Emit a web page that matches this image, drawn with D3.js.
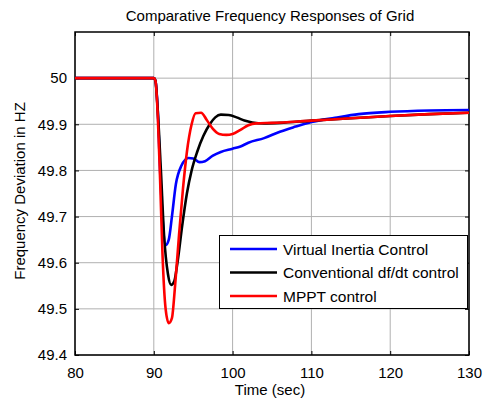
<!DOCTYPE html>
<html><head><meta charset="utf-8">
<script src="https://cdn.jsdelivr.net/npm/d3@7/dist/d3.min.js"></script>
<style>body{margin:0;background:#fff;} text{font-family:"Liberation Sans",Arial,sans-serif;fill:#000;}</style>
</head><body><svg id="c" width="487" height="403"></svg>
<script>
const xTicks = [80, 90, 100, 110, 120, 130];
const yTicks = [49.4, 49.5, 49.6, 49.7, 49.8, 49.9, 50];
const title = "Comparative Frequency Responses of Grid";
const xLabel = "Time (sec)";
const yLabel = "Frequency Deviation in HZ";
const seriesNames = ["Virtual Inertia Control", "Conventional df/dt control", "MPPT control"];
const seriesColors = ["#0000ff", "#000000", "#ff0000"];

const blueT = [80,90,90.2,90.5,90.8,91.1,91.5,91.9,92.3,92.8,93.5,94.4,95.0,95.8,96.5,97.5,98.5,100,101,102,104,106,108,110,113,116,120,125,130];
const blueV = [50,50,49.995,49.93,49.80,49.70,49.638,49.65,49.70,49.77,49.81,49.827,49.826,49.818,49.82,49.832,49.84,49.847,49.852,49.86,49.87,49.884,49.895,49.905,49.914,49.922,49.927,49.93,49.931];
const blackT = [80,90,90.2,90.5,90.9,91.3,91.8,92.2,92.6,93.0,93.6,94.2,94.8,95.5,96.3,97.1,97.8,98.5,99.5,100.5,101.5,102.5,104,106,110,115,120,125,130];
const blackV = [50,50,49.995,49.93,49.80,49.66,49.575,49.552,49.56,49.60,49.68,49.75,49.80,49.84,49.875,49.90,49.915,49.921,49.92,49.915,49.908,49.904,49.902,49.903,49.908,49.913,49.918,49.922,49.925];
const redT = [80,90,90.2,90.5,90.8,91.1,91.5,91.9,92.3,92.7,93.2,93.7,94.2,94.8,95.3,96.0,96.7,97.5,98.3,99.2,100,101,102,103,105,110,115,120,125,130];
const redV = [50,50,49.995,49.92,49.78,49.62,49.50,49.469,49.48,49.55,49.66,49.76,49.84,49.90,49.924,49.925,49.91,49.89,49.879,49.877,49.879,49.888,49.898,49.902,49.903,49.908,49.913,49.918,49.922,49.925];

const svg = d3.select("#c");
const L = 75, R = 469, T = 32, B = 355;
const x = d3.scaleLinear().domain([80,130]).range([L,R]);
const y = d3.scaleLinear().domain([49.4,50.1]).range([B,T]);

// grid
const g = svg.append("g");
g.selectAll(".gx").data(xTicks).enter().append("line")
 .attr("x1",d=>x(d)).attr("x2",d=>x(d)).attr("y1",T).attr("y2",B)
 .attr("stroke","#b0b0b0").attr("stroke-width",1);
g.selectAll(".gy").data(yTicks).enter().append("line")
 .attr("y1",d=>y(d)).attr("y2",d=>y(d)).attr("x1",L).attr("x2",R)
 .attr("stroke","#b0b0b0").attr("stroke-width",1);

// axes (ticks inside)
const xAxis = d3.axisBottom(x).tickValues(xTicks).tickSize(-4).tickPadding(12).tickFormat(d3.format("d"));
const yAxis = d3.axisLeft(y).tickValues(yTicks).tickSize(-4).tickPadding(8).tickFormat(d=>d3.format("")(+d.toFixed(1)));
const xa = svg.append("g").attr("transform",`translate(0,${B})`).call(xAxis);
const ya = svg.append("g").attr("transform",`translate(${L},0)`).call(yAxis);
[xa,ya].forEach(a=>{a.select(".domain").remove();a.selectAll("text").attr("font-size","15px").attr("font-family","Liberation Sans, Arial, sans-serif");a.selectAll("line").attr("stroke","#000");});
svg.append("g").attr("transform",`translate(0,${T})`).call(d3.axisTop(x).tickValues(xTicks).tickSize(-4).tickFormat("")).call(a=>{a.select(".domain").remove();a.selectAll("line").attr("stroke","#000");});
svg.append("g").attr("transform",`translate(${R},0)`).call(d3.axisRight(y).tickValues(yTicks).tickSize(-4).tickFormat("")).call(a=>{a.select(".domain").remove();a.selectAll("line").attr("stroke","#000");});

svg.append("rect").attr("x",L).attr("y",T).attr("width",R-L).attr("height",B-T)
 .attr("fill","none").attr("stroke","#000").attr("stroke-width",1.5);

// lines
const line = d3.line().x(d=>x(d[0])).y(d=>y(d[1])).curve(d3.curveMonotoneX);
const series = [
 blueT.map((t,i)=>[t,blueV[i]]),
 blackT.map((t,i)=>[t,blackV[i]]),
 redT.map((t,i)=>[t,redV[i]])
];
const clip = svg.append("clipPath").attr("id","cp").append("rect").attr("x",L).attr("y",T).attr("width",R-L).attr("height",B-T);
series.forEach((s,i)=>{
 svg.append("path").datum(s).attr("d",line).attr("fill","none")
  .attr("stroke",seriesColors[i]).attr("stroke-width",2.6).attr("stroke-linejoin","round")
  .attr("clip-path","url(#cp)");
});

// legend
const lg = svg.append("g");
lg.append("rect").attr("x",219.5).attr("y",235.5).attr("width",248).attr("height",73)
 .attr("fill","#fff").attr("stroke","#000").attr("stroke-width",1);
seriesNames.forEach((n,i)=>{
 const yy = 249 + i*23.5;
 lg.append("line").attr("x1",230).attr("x2",277).attr("y1",yy).attr("y2",yy)
  .attr("stroke",seriesColors[i]).attr("stroke-width",2.6);
 lg.append("text").attr("x",283).attr("y",yy+5.5).attr("font-size","15.5px").text(n);
});

// titles
svg.append("text").attr("x",270).attr("y",21).attr("text-anchor","middle").attr("font-size","15px").text(title);
svg.append("text").attr("x",270).attr("y",395).attr("text-anchor","middle").attr("font-size","15px").text(xLabel);
svg.append("text").attr("transform","translate(25,191) rotate(-90)").attr("text-anchor","middle").attr("font-size","15px").text(yLabel);
</script></body></html>
